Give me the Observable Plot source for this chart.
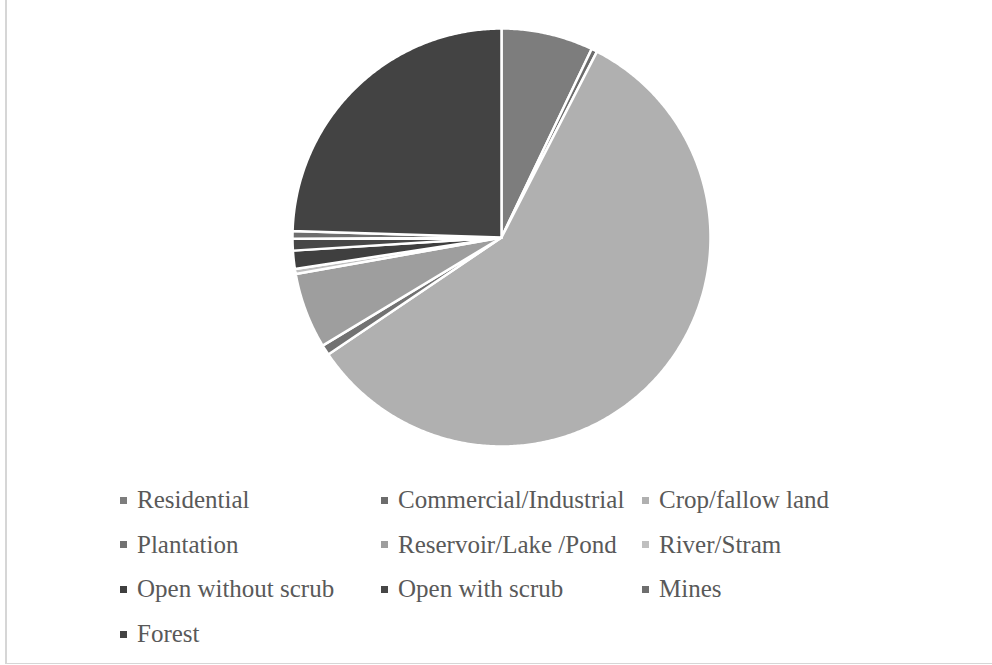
<!DOCTYPE html>
<html><head><meta charset="utf-8">
<script src="https://cdn.jsdelivr.net/npm/d3@7"></script>
<script src="https://cdn.jsdelivr.net/npm/@observablehq/plot@0.6"></script>
<style>
body{margin:0;background:#fff;width:992px;height:665px;overflow:hidden;position:relative;font-family:"Liberation Serif",serif}
#frame{position:absolute;left:5px;top:-2px;width:1000px;height:666px;border:1px solid #d6d6d6;border-left:2px solid #d6d6d6;box-sizing:border-box}
#chart{position:absolute;left:0;top:0}
.item{position:absolute;display:flex;align-items:center;height:30px;font-size:25px;color:#595959;white-space:nowrap;line-height:30px}
.sw{width:7px;height:7px;margin-right:10px;flex:none}
</style></head><body>
<div id="frame"></div><div id="chart"></div><div id="legend"></div>
<script>
const categories = ["Residential","Commercial/Industrial","Crop/fallow land","Plantation","Reservoir/Lake /Pond","River/Stram","Open without scrub","Open with scrub","Mines","Forest"];
const shares = [7.1, 0.45, 58.0, 0.8, 5.85, 0.4, 1.4, 0.9, 0.6, 24.5];
const colors = ["#7d7d7d","#6c6c6c","#b0b0b0","#727272","#9e9e9e","#bfbfbf","#3f3f3f","#474747","#6e6e6e","#434343"];

const total = d3.sum(shares);
let acc = 0;
const slices = categories.map((name, i) => {
  const a0 = acc / total * 2 * Math.PI; acc += shares[i];
  const a1 = acc / total * 2 * Math.PI;
  const n = Math.max(2, Math.ceil((a1 - a0) / (Math.PI / 360)));
  const ring = [[0, 0]];
  for (let k = 0; k <= n; k++) { const a = a0 + (a1 - a0) * k / n; ring.push([Math.sin(a), -Math.cos(a)]); }
  ring.push([0, 0]);
  return {type: "Feature", properties: {name}, geometry: {type: "Polygon", coordinates: [ring]}};
});

const plot = Plot.plot({
  width: 992, height: 474,
  marginTop: 28, marginBottom: 28, marginLeft: 10, marginRight: 0,
  projection: {type: "identity", domain: {type: "MultiPoint", coordinates: [[-1, -1], [1, 1]]}},
  color: {domain: categories, range: colors},
  marks: [Plot.geo(slices, {fill: d => d.properties.name, stroke: "white", strokeWidth: 2.5})]
});
document.getElementById("chart").appendChild(plot);

const colX = [120, 381, 642];
const legend = document.getElementById("legend");
categories.forEach((name, i) => {
  const r = Math.floor(i / 3), c = i % 3;
  const div = document.createElement("div");
  div.className = "item";
  div.style.left = colX[c] + "px";
  div.style.top = (500 + 44.7 * r - 15) + "px";
  const sw = document.createElement("span");
  sw.className = "sw"; sw.style.background = colors[i];
  const t = document.createElement("span"); t.textContent = name;
  div.appendChild(sw); div.appendChild(t);
  legend.appendChild(div);
});
</script>
</body></html>
